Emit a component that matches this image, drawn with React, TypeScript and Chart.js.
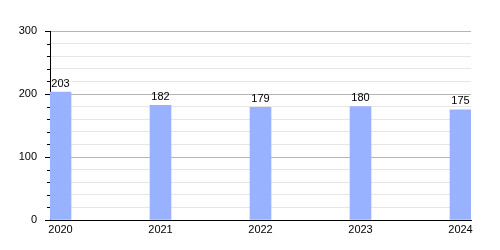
import React, { useEffect, useRef } from "react";
import { Chart, registerables } from "chart.js";

Chart.register(...registerables);

const years = [2020, 2021, 2022, 2023, 2024];
const values = [203, 182, 179, 180, 175];
const yMajorTicks = [0, 100, 200, 300];

const FONT = "'Liberation Sans', Arial, sans-serif";

const tickPlugin = {
  id: "customTicks",
  afterDraw(chart: any) {
    const ctx = chart.ctx;
    const y = chart.scales.y;
    const left = chart.chartArea.left;
    ctx.save();
    ctx.strokeStyle = "#000";
    ctx.lineWidth = 1;
    y.ticks.forEach((t: any) => {
      const py = Math.round(y.getPixelForValue(t.value)) + 0.5;
      const len = t.value % 100 === 0 ? 5 : 3;
      ctx.beginPath();
      ctx.moveTo(left - len, py);
      ctx.lineTo(left, py);
      ctx.stroke();
    });
    ctx.restore();
  },
};

const labelPlugin = {
  id: "valueLabels",
  afterDatasetsDraw(chart: any) {
    const ctx = chart.ctx;
    const meta = chart.getDatasetMeta(0);
    ctx.save();
    ctx.font = `11px ${FONT}`;
    ctx.fillStyle = "#000";
    ctx.textAlign = "center";
    ctx.textBaseline = "bottom";
    meta.data.forEach((el: any, i: number) => {
      ctx.fillText(String(values[i]), el.x, el.y - 3);
    });
    ctx.restore();
  },
};

export default function App() {
  const ref = useRef<HTMLCanvasElement>(null);
  useEffect(() => {
    if (!ref.current) return;
    const chart = new Chart(ref.current, {
      type: "bar",
      data: {
        datasets: [
          {
            data: years.map((x, i) => ({ x, y: values[i] })),
            backgroundColor: "rgb(153,178,255)",
            borderWidth: 0,
            barThickness: 21,
          },
        ],
      },
      options: {
        animation: false,
        responsive: false,
        layout: { padding: { top: 31, right: 29, bottom: 0, left: 0 } },
        plugins: { legend: { display: false }, tooltip: { enabled: false } },
        scales: {
          x: {
            type: "linear",
            offset: false,
            min: 2019.895,
            max: 2024.105,
            afterBuildTicks: (s: any) => {
              s.ticks = years.map((v) => ({ value: v }));
            },
            afterFit: (s: any) => {
              s.height = 30;
            },
            grid: { display: false, drawTicks: false, offset: false },
            border: { display: true, color: "#000", width: 1 },
            ticks: {
              padding: 3,
              color: "#000",
              font: { family: FONT, size: 11 },
              callback: (v: any) => String(v),
              maxRotation: 0,
              autoSkip: false,
            },
          },
          y: {
            min: 0,
            max: 300,
            afterBuildTicks: (s: any) => {
              const t: any[] = [];
              for (let v = 0; v <= 300; v += 20) t.push({ value: v });
              s.ticks = t;
            },
            afterFit: (s: any) => {
              s.width = 50;
            },
            grid: {
              drawTicks: false,
              color: (c: any) =>
                yMajorTicks.includes(c.tick?.value) ? "#b4b4b4" : "#e6e6e6",
            },
            border: { display: true, color: "#000", width: 1 },
            ticks: {
              padding: 13,
              color: "#000",
              font: { family: FONT, size: 11 },
              callback: (v: any) => (yMajorTicks.includes(v) ? String(v) : ""),
              autoSkip: false,
            },
          },
        },
      },
      plugins: [tickPlugin, labelPlugin],
    } as any);
    return () => chart.destroy();
  }, []);
  return (
    <div style={{ position: "fixed", left: 0, top: 0, width: 500, height: 250, background: "#fff" }}>
      <canvas ref={ref} width={500} height={250} style={{ width: 500, height: 250 }} />
    </div>
  );
}
